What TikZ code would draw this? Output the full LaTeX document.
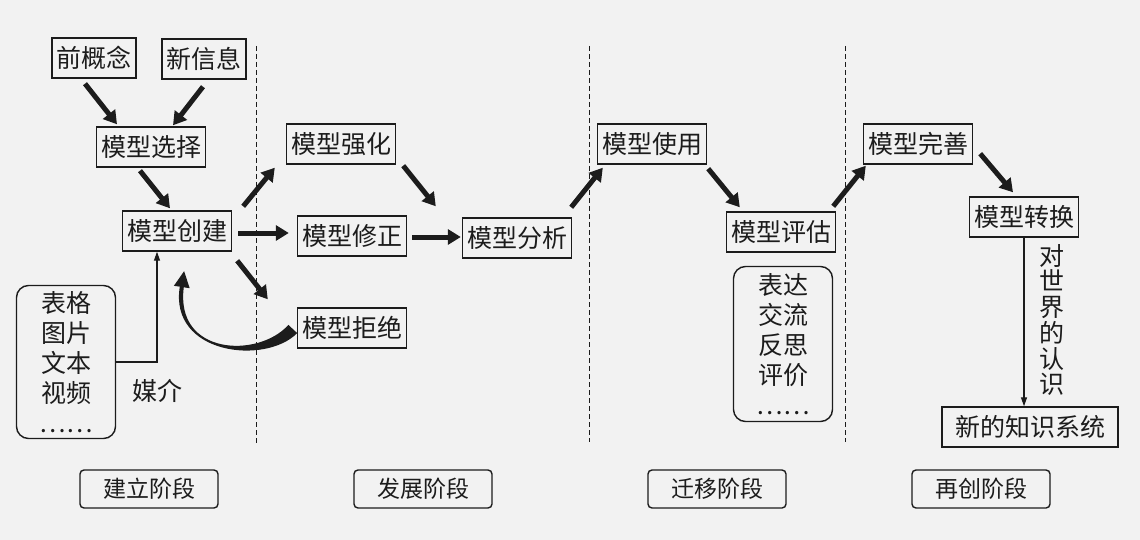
\documentclass[tikz,border=0pt]{standalone}
\usepackage{fontspec}
\setmainfont{Noto Sans CJK SC}
\usepackage{xcolor}
\usetikzlibrary{arrows.meta,positioning,calc}
\definecolor{bg}{HTML}{F2F2F2}
\definecolor{ink}{HTML}{1C1C1C}

\begin{document}
\begin{tikzpicture}[x=1pt, y=-1pt, ink, text=ink,
    font=\fontsize{25}{26}\selectfont,
    box/.style={draw, line width=1.4pt, inner xsep=4.5pt, inner ysep=2pt, minimum height=40pt},
    listbox/.style={draw, line width=1.4pt, rounded corners=12pt, align=center, minimum width=99pt, font=\fontsize{25}{30}\selectfont},
    stagebox/.style={draw, line width=1.4pt, rounded corners=4pt, minimum width=138pt, minimum height=38pt, font=\fontsize{23}{24}\selectfont},
    bigarrow/.style={line width=5pt, -{Triangle[length=13pt, width=15pt]}},
    thinarrow/.style={line width=1.2pt, -{Triangle[length=9pt, width=6pt]}},
    stageline/.style={dash pattern=on 5pt off 3pt, line width=0.8pt}
]
    \fill[bg] (0,0) rectangle (1140,540);
    \useasboundingbox (0,0) rectangle (1140,540);

    % stage separators
    \draw[stageline] (256,46) -- (256,445);
    \draw[stageline] (589,46) -- (589,442);
    \draw[stageline] (845,46) -- (845,442);

    % building stage
    \node[box] (pre) at (94,58) {前概念};
    \node[box] (info) at (204,59) {新信息};
    \node[box] (select) at (151,147) {模型选择};
    \node[box] (create) at (177,231) {模型创建};
    \node[listbox, minimum height=153pt] (media) at (66,362) {表格\\图片\\文本\\视频\\……};
    \node (medialabel) at (157,391) {媒介};

    % development stage
    \node[box] (strong) at (341,144) {模型强化};
    \node[box] (fix) at (352,236) {模型修正};
    \node[box] (analysis) at (517,238) {模型分析};
    \node[box] (reject) at (352,328) {模型拒绝};

    % transfer stage
    \node[box] (use) at (652,144) {模型使用};
    \node[box] (eval) at (781,232) {模型评估};
    \node[listbox, minimum height=155pt] (express) at (783,344) {表达\\交流\\反思\\评价\\……};

    % re-creation stage
    \node[box] (perfect) at (918,144) {模型完善};
    \node[box] (trans) at (1024,217) {模型转换};
    \node[box, minimum width=176pt] (know) at (1030,427) {新的知识系统};
    \node[align=center, font=\fontsize{25}{25.7}\selectfont] (world) at (1052,320) {对\\世\\界\\的\\认\\识};

    % stage labels
    \node[stagebox] (stage1) at (149,489) {建立阶段};
    \node[stagebox] (stage2) at (423,489) {发展阶段};
    \node[stagebox] (stage3) at (717,489) {迁移阶段};
    \node[stagebox] (stage4) at (981,489) {再创阶段};

    \draw[bigarrow] ($(pre.south)+(-9,5)$) -- ($(select.north)+(-34,-2)$);
    \draw[bigarrow] ($(info.south)+(-1,7)$) -- ($(select.north)+(22,-1)$);
    \draw[bigarrow] ($(select.south)+(-11,3)$) -- ($(create.north)+(-7,-2)$);
    \draw[bigarrow] ($(create.north east)+(11,-4)$) -- ($(strong.south west)+(-11,3)$);
    \draw[bigarrow] ($(create.east)+(6,2)$) -- ($(create.east -| fix.west)+(-8,2)$);
    \draw[bigarrow] ($(create.south east)+(5,9)$) -- ($(reject.north west)+(-29,-8)$);
    \draw[bigarrow] ($(strong.south east)+(7,1)$) -- ($(analysis.north west)+(-26,-11)$);
    \draw[bigarrow] ($(fix.east)+(5,1)$) -- ($(fix.east -| analysis.west)+(-1,1)$);
    \draw[bigarrow] ($(analysis.north east)+(-1,-10)$) -- ($(use.south west)+(6,3)$);
    \draw[bigarrow] ($(use.south east)+(1,4)$) -- ($(eval.north west)+(14,-4)$);
    \draw[bigarrow] ($(eval.north east)+(-3,-5)$) -- ($(perfect.south west)+(3,1)$);
    \draw[bigarrow] ($(perfect.south east)+(7,-11)$) -- ($(trans.north)+(-11,-4)$);

    % tapered return arrow from reject back to create
    \fill[shift={(reject.west)}] (0.4,5.1) .. controls (-31.4,37.4) and (-128,26.6) .. (-117,-41.3)
        -- (-113,-40.7) .. controls (-122,27.4) and (-38.6,30.6) .. (-8.4,-3.1) -- cycle;
    \fill[shift={(reject.west)}] (-122.9,-42.2) -- (-112.7,-56.8) -- (-107.1,-39.8) -- cycle;

    \draw[thinarrow] (media.east) -| ($(create.south)+(-20,0)$);
    \draw[thinarrow] (trans.south) -- (trans.south |- know.north);
\end{tikzpicture}
\end{document}
